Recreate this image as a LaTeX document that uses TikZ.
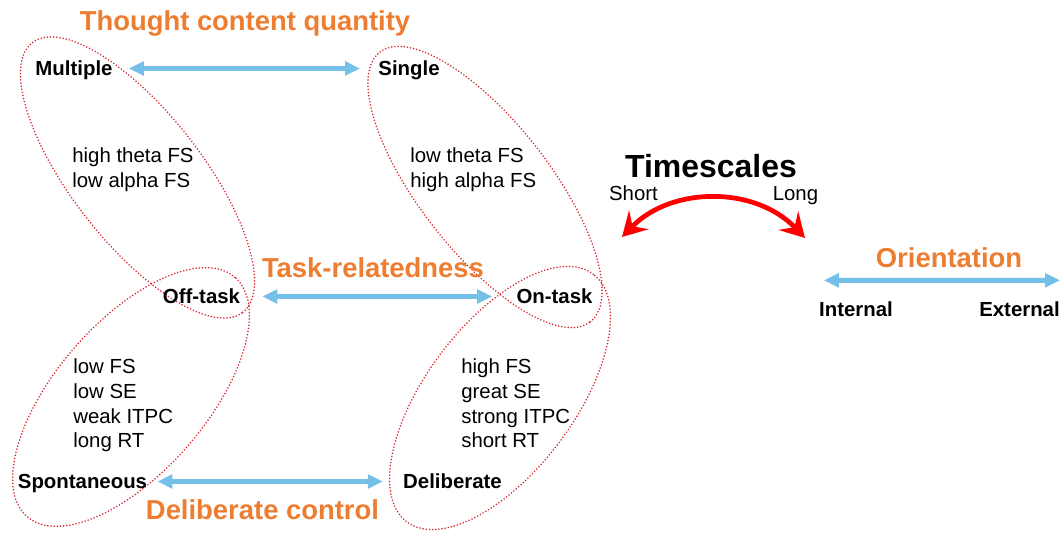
\documentclass[tikz,border=0pt]{standalone}
\usepackage{fontspec}
\setmainfont{Liberation Sans}
\usetikzlibrary{arrows.meta}
\definecolor{ttlorange}{HTML}{ED7D31}
\definecolor{arrowblue}{HTML}{74C0E8}
\definecolor{dotred}{HTML}{D8262F}

\begin{document}
\begin{tikzpicture}[
    lab/.style={font=\fontsize{11.6}{14}\selectfont\bfseries, inner sep=0, text height=8.3pt, text depth=0pt},
    plain/.style={font=\fontsize{11.6}{14}\selectfont, inner sep=0, text height=8.3pt, text depth=0pt},
    txt/.style={font=\fontsize{11.6}{14.2}\selectfont, inner sep=0, align=left, anchor=north west},
    ttl/.style={font=\fontsize{15.6}{18}\selectfont\bfseries, text=ttlorange, inner sep=0, text height=11.2pt, text depth=0pt},
    biarrow/.style={arrowblue, line width=2.8pt, {Triangle[length=3mm,width=2.7mm]}-{Triangle[length=3mm,width=2.7mm]}, shorten <=0.4cm, shorten >=0.4cm},
    dotring/.style={dotred, line width=1pt, dash pattern=on 0pt off 1.8pt, line cap=round}]
\useasboundingbox (0,0) rectangle (21.26,10.66);

% the four dotted groupings
\draw[dotring, rotate around={-52:(2.75,7.11)}] (2.75,7.11) ellipse (3.42 and 1.30);
\draw[dotring, rotate around={-52:(9.70,6.92)}] (9.70,6.92) ellipse (3.42 and 1.30);
\draw[dotring, rotate around={49:(2.62,2.72)}] (2.62,2.72) ellipse (3.17 and 1.50);
\draw[dotring, rotate around={53:(10.0,2.70)}] (10.0,2.70) ellipse (3.10 and 1.48);

% thought content quantity
\node[ttl] (tcq) at (4.90,10.25) {Thought content quantity};
\node[lab] (mult) at (1.48,9.29) {Multiple};
\node[lab] (sing) at (8.18,9.29) {Single};
\draw[biarrow, shorten <=0.32cm, shorten >=0.36cm] (mult) -- (sing);
\node[txt] (thetaA) at (1.44,7.72) {high theta FS\\low alpha FS};
\node[txt] (thetaB) at (8.20,7.72) {low theta FS\\high alpha FS};

% task-relatedness
\node[ttl] (task) at (7.46,5.31) {Task-relatedness};
\node[lab] (off) at (4.03,4.73) {Off-task};
\node[lab] (on) at (11.09,4.73) {On-task};
\draw[biarrow, shorten <=0.44cm, shorten >=0.48cm] (off) -- (on);
\node[txt] (fsA) at (1.46,3.50) {low FS\\low SE\\weak ITPC\\long RT};
\node[txt] (fsB) at (9.22,3.50) {high FS\\great SE\\strong ITPC\\short RT};

% deliberate control
\node[lab] (spont) at (1.65,1.03) {Spontaneous};
\node[lab] (delib) at (9.05,1.03) {Deliberate};
\draw[biarrow, shorten <=0.2cm, shorten >=0.4cm] (spont) -- (delib);
\node[ttl] (dc) at (5.25,0.47) {Deliberate control};

% timescales
\node[font=\fontsize{18.2}{21}\selectfont\bfseries, inner sep=0, text height=13pt, text depth=0pt] (time) at (14.22,7.34) {Timescales};
\node[plain] (short) at (12.67,6.79) {Short};
\node[plain] (long) at (15.91,6.79) {Long};
\coordinate (shortTip) at (12.44,5.92);
\coordinate (longTip) at (16.10,5.90);
\draw[red, line width=2.7pt, {Stealth[length=4.8mm,width=5.4mm,inset=1.8mm]}-{Stealth[length=4.8mm,width=5.4mm,inset=1.8mm]}] (shortTip) to[bend left=46] (longTip);

% orientation
\node[ttl] (orient) at (18.98,5.51) {Orientation};
\node[lab] (intl) at (17.12,4.48) {Internal};
\node[lab] (extl) at (20.39,4.48) {External};
\draw[biarrow, shorten <=0pt, shorten >=0pt] ([shift={(0.1,0.42)}]intl.north west) -- ([yshift=0.42cm]extl.north east);

\end{tikzpicture}
\end{document}
